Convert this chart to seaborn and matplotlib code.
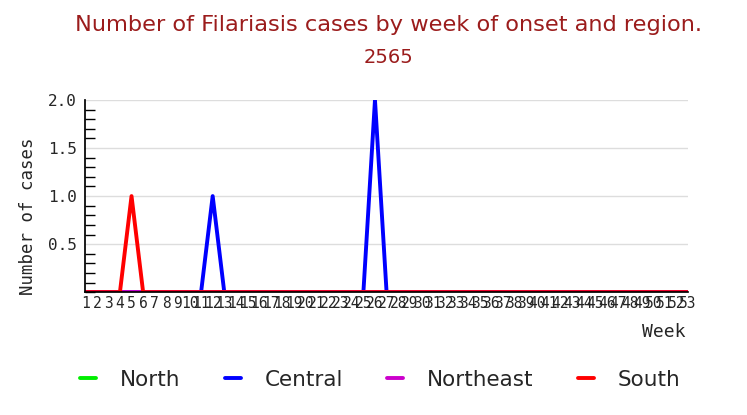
import numpy as np
import pandas as pd
import matplotlib
matplotlib.use("Agg")
import matplotlib.pyplot as plt
import seaborn as sns
from matplotlib.ticker import MultipleLocator

# weekly case counts, weeks 1..53
weeks = list(range(1, 54))
north = [0] * 53
central = [0] * 53
central[12 - 1] = 1
central[26 - 1] = 2
northeast = [0] * 53
south = [0] * 53
south[5 - 1] = 1

regions = ["North", "Central", "Northeast", "South"]
colors = ["#00ee00", "#0000ff", "#cc00cc", "#ff0000"]

df = pd.concat([
    pd.DataFrame({"Week": weeks, "Cases": vals, "Region": name})
    for name, vals in zip(regions, [north, central, northeast, south])
])

sns.set_theme(style="white")
plt.rcParams["font.family"] = ["DejaVu Sans"]

fig = plt.figure(figsize=(7.47, 4.15), dpi=100)
ax = fig.add_axes([0.114, 0.296, 0.807, 0.463])

sns.lineplot(data=df, x="Week", y="Cases", hue="Region", hue_order=regions,
             palette=colors, linewidth=2.8, ax=ax, legend=False)

ax.set_xlim(1, 53)
ax.set_ylim(0, 2.0)
ax.set_xticks(weeks)
ax.set_xticklabels([str(w) for w in weeks], fontsize=10.5, family="DejaVu Sans Mono")
ax.set_yticks([0.5, 1.0, 1.5, 2.0])
ax.set_yticklabels(["0.5", "1.0", "1.5", "2.0"], fontsize=11.5, family="DejaVu Sans Mono")
ax.yaxis.set_minor_locator(MultipleLocator(0.1))
ax.tick_params(axis="x", direction="in", length=5, width=1, color="black", pad=3)
ax.tick_params(axis="y", which="major", direction="in", length=11, width=1, color="black", pad=6)
ax.tick_params(axis="y", which="minor", direction="in", length=7, width=1, color="black", left=True)
ax.grid(axis="y", color="#dddddd", linewidth=1)
ax.set_axisbelow(True)

for side in ["top", "right"]:
    ax.spines[side].set_visible(False)
ax.spines["left"].set_color("black")
ax.spines["bottom"].set_color("black")

ax.set_xlabel("")
ax.set_ylabel("")
fig.text(0.037, 0.48, "Number of cases", fontsize=12.5, family="DejaVu Sans Mono",
         rotation=90, ha="center", va="center")
fig.text(0.889, 0.2, "Week", fontsize=13, family="DejaVu Sans Mono", ha="center", va="center")

fig.text(0.52, 0.94, "Number of Filariasis cases by week of onset and region.",
         fontsize=16.2, color="#9b1c1c", ha="center", va="center")
fig.text(0.52, 0.862, "2565", fontsize=14, color="#9b1c1c", ha="center", va="center")

handles = [plt.Line2D([0], [0], color=c, linewidth=2.8) for c in colors]
fig.legend(handles, regions, loc="center", bbox_to_anchor=(0.509, 0.085), ncol=4,
           frameon=False, fontsize=15.5, handlelength=0.75, columnspacing=2.05, handletextpad=1.1)

fig.savefig("out.png", dpi=100, facecolor="white")
